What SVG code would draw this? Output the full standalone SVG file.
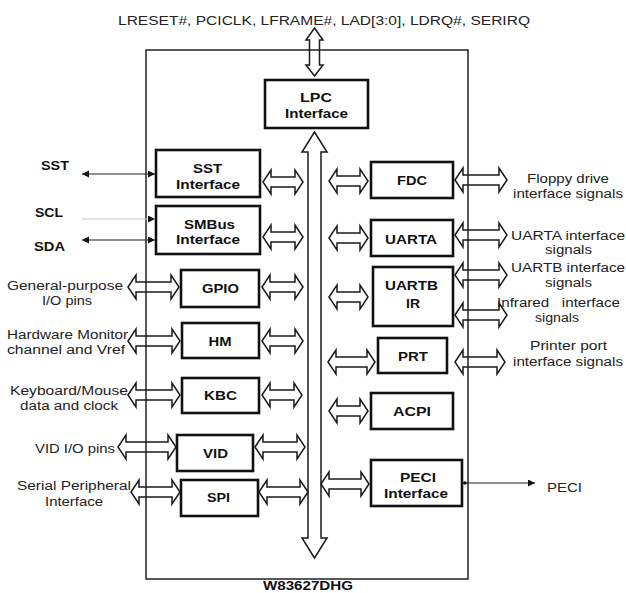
<svg xmlns="http://www.w3.org/2000/svg" width="626" height="593" viewBox="0 0 626 593">
<style>
  .bg{fill:#fff}
  .box{fill:none;stroke:#111;stroke-width:2.6}
  .outer{fill:none;stroke:#222;stroke-width:1.5}
  .dbl{fill:none;stroke:#1a1a1a;stroke-width:1.5;stroke-linejoin:miter}
  .sig{stroke:#222;stroke-width:1.2;fill:none}
  .sigl{stroke:#c8c8c8;stroke-width:1.2;fill:none}
  .lb{font-family:"Liberation Sans",Arial,sans-serif;font-weight:bold;font-size:12.5px;fill:#111}
  .lr{font-family:"Liberation Sans",Arial,sans-serif;font-size:12.5px;fill:#222}
</style>
<defs>
  <marker id="ah" markerUnits="userSpaceOnUse" markerWidth="8" markerHeight="8" refX="7" refY="3.5" orient="auto-start-reverse">
    <path d="M0,0 L7,3.5 L0,7 Z" fill="#111"/>
  </marker>
</defs>
<rect class="bg" x="0" y="0" width="626" height="593"/>

<g id="chip">
  <rect class="outer" x="146" y="50" width="322" height="529"/>
  <text class="lb" x="263" y="590" font-size="12px" textLength="90" lengthAdjust="spacingAndGlyphs">W83627DHG</text>
</g>

<text class="lr" x="118" y="25" textLength="412" lengthAdjust="spacingAndGlyphs">LRESET#, PCICLK, LFRAME#, LAD[3:0], LDRQ#, SERIRQ</text>

<g id="lpc">
  <rect class="box" x="265" y="80" width="103" height="48"/>
  <text class="lb" x="300" y="101.5" textLength="32" lengthAdjust="spacingAndGlyphs">LPC</text>
  <text class="lb" x="285" y="117.5" textLength="63" lengthAdjust="spacingAndGlyphs">Interface</text>
</g>
<g id="sst">
  <rect class="box" x="156" y="150" width="104" height="47"/>
  <text class="lb" x="193" y="173" textLength="29" lengthAdjust="spacingAndGlyphs">SST</text>
  <text class="lb" x="176" y="189" textLength="64" lengthAdjust="spacingAndGlyphs">Interface</text>
</g>
<g id="smbus">
  <rect class="box" x="156" y="206" width="104" height="48"/>
  <text class="lb" x="184" y="229" textLength="51" lengthAdjust="spacingAndGlyphs">SMBus</text>
  <text class="lb" x="176" y="244" textLength="64" lengthAdjust="spacingAndGlyphs">Interface</text>
</g>
<g id="gpio">
  <rect class="box" x="181" y="270" width="78" height="37"/>
  <text class="lb" x="202" y="292.5" textLength="37" lengthAdjust="spacingAndGlyphs">GPIO</text>
</g>
<g id="hm">
  <rect class="box" x="182" y="323" width="77" height="35"/>
  <text class="lb" x="208.5" y="345.5" textLength="23" lengthAdjust="spacingAndGlyphs">HM</text>
</g>
<g id="kbc">
  <rect class="box" x="182" y="378" width="77" height="35"/>
  <text class="lb" x="204" y="399.5" textLength="33" lengthAdjust="spacingAndGlyphs">KBC</text>
</g>
<g id="vid">
  <rect class="box" x="177" y="435" width="76" height="36"/>
  <text class="lb" x="203" y="457.5" textLength="25" lengthAdjust="spacingAndGlyphs">VID</text>
</g>
<g id="spi">
  <rect class="box" x="181" y="480" width="77" height="36"/>
  <text class="lb" x="207" y="502" textLength="23" lengthAdjust="spacingAndGlyphs">SPI</text>
</g>
<g id="fdc">
  <rect class="box" x="371" y="162" width="82" height="36"/>
  <text class="lb" x="397" y="184.5" textLength="30" lengthAdjust="spacingAndGlyphs">FDC</text>
</g>
<g id="uarta">
  <rect class="box" x="371" y="220" width="82" height="36"/>
  <text class="lb" x="385" y="243.5" textLength="52" lengthAdjust="spacingAndGlyphs">UARTA</text>
</g>
<g id="uartb">
  <rect class="box" x="373" y="267" width="80" height="59"/>
  <text class="lb" x="385" y="289.5" textLength="53" lengthAdjust="spacingAndGlyphs">UARTB</text>
  <text class="lb" x="406" y="307.5" textLength="14" lengthAdjust="spacingAndGlyphs">IR</text>
</g>
<g id="prt">
  <rect class="box" x="378" y="338" width="69" height="35"/>
  <text class="lb" x="398" y="360.5" textLength="30" lengthAdjust="spacingAndGlyphs">PRT</text>
</g>
<g id="acpi">
  <rect class="box" x="371" y="393" width="82" height="36"/>
  <text class="lb" x="393" y="416" textLength="38" lengthAdjust="spacingAndGlyphs">ACPI</text>
</g>
<g id="peci">
  <rect class="box" x="371" y="460" width="91" height="46"/>
  <text class="lb" x="400" y="481.5" textLength="36" lengthAdjust="spacingAndGlyphs">PECI</text>
  <text class="lb" x="384" y="498" textLength="64" lengthAdjust="spacingAndGlyphs">Interface</text>
</g>

<g id="labels">
  <text class="lb" x="41" y="170" textLength="28" lengthAdjust="spacingAndGlyphs">SST</text>
  <text class="lb" x="35" y="217" textLength="28" lengthAdjust="spacingAndGlyphs">SCL</text>
  <text class="lb" x="34" y="251" textLength="31" lengthAdjust="spacingAndGlyphs">SDA</text>
  <text class="lr" x="7" y="289.5" textLength="116" lengthAdjust="spacingAndGlyphs">General-purpose</text>
  <text class="lr" x="42" y="304.5" textLength="50" lengthAdjust="spacingAndGlyphs">I/O pins</text>
  <text class="lr" x="7" y="338.5" textLength="121" lengthAdjust="spacingAndGlyphs">Hardware Monitor</text>
  <text class="lr" x="7" y="353.5" textLength="118" lengthAdjust="spacingAndGlyphs">channel and Vref</text>
  <text class="lr" x="10" y="394.5" textLength="118" lengthAdjust="spacingAndGlyphs">Keyboard/Mouse</text>
  <text class="lr" x="20" y="409.5" textLength="98" lengthAdjust="spacingAndGlyphs">data and clock</text>
  <text class="lr" x="35" y="453" textLength="80" lengthAdjust="spacingAndGlyphs">VID I/O pins</text>
  <text class="lr" x="17" y="489.5" textLength="114" lengthAdjust="spacingAndGlyphs">Serial Peripheral</text>
  <text class="lr" x="45" y="506" textLength="58" lengthAdjust="spacingAndGlyphs">Interface</text>
  <text class="lr" x="527" y="182.5" textLength="82" lengthAdjust="spacingAndGlyphs">Floppy drive</text>
  <text class="lr" x="513" y="197.5" textLength="110" lengthAdjust="spacingAndGlyphs">interface signals</text>
  <text class="lr" x="511" y="239.5" textLength="114" lengthAdjust="spacingAndGlyphs">UARTA interface</text>
  <text class="lr" x="545" y="253.5" textLength="47" lengthAdjust="spacingAndGlyphs">signals</text>
  <text class="lr" x="511" y="271.5" textLength="114" lengthAdjust="spacingAndGlyphs">UARTB interface</text>
  <text class="lr" x="545" y="287" textLength="47" lengthAdjust="spacingAndGlyphs">signals</text>
  <text class="lr" x="497" y="306.5" xml:space="preserve" textLength="123" lengthAdjust="spacingAndGlyphs">Infrared   interface</text>
  <text class="lr" x="535" y="321.5" textLength="44" lengthAdjust="spacingAndGlyphs">signals</text>
  <text class="lr" x="530" y="349.5" textLength="77" lengthAdjust="spacingAndGlyphs">Printer port</text>
  <text class="lr" x="513" y="366" textLength="110" lengthAdjust="spacingAndGlyphs">interface signals</text>
  <text class="lr" x="547" y="491.5" textLength="35" lengthAdjust="spacingAndGlyphs">PECI</text>
</g>

<g id="connectors">
  <!-- LPC external and internal bus -->
  <path class="dbl" d="M314.5 28 L323 40 L319.5 40 L319.5 65 L323 65 L314.5 76 L306 65 L309.5 65 L309.5 40 L306 40 Z"/>
  <path class="dbl" d="M314.5 132 L327 152 L321 152 L321 538 L327 538 L314.5 558 L302 538 L308 538 L308 152 L302 152 Z"/>
  <!-- left inner -->
  <path class="dbl" d="M263 182 L271 170 L271 177 L295 177 L295 170 L303 182 L295 194 L295 187 L271 187 L271 194 Z"/>
  <path class="dbl" d="M263 237 L271 225 L271 232 L295 232 L295 225 L303 237 L295 249 L295 242 L271 242 L271 249 Z"/>
  <path class="dbl" d="M262 287 L270 275 L270 282 L295 282 L295 275 L303 287 L295 299 L295 292 L270 292 L270 299 Z"/>
  <path class="dbl" d="M262 341 L270 329 L270 336 L295 336 L295 329 L303 341 L295 353 L295 346 L270 346 L270 353 Z"/>
  <path class="dbl" d="M262 395 L270 383 L270 390 L294 390 L294 383 L302 395 L294 407 L294 400 L270 400 L270 407 Z"/>
  <path class="dbl" d="M255 447 L263 435 L263 442 L297 442 L297 435 L305 447 L297 459 L297 452 L263 452 L263 459 Z"/>
  <path class="dbl" d="M259 492 L267 480 L267 487 L300 487 L300 480 L308 492 L300 504 L300 497 L267 497 L267 504 Z"/>
  <!-- right inner -->
  <path class="dbl" d="M329 181 L337 169 L337 176 L360 176 L360 169 L368 181 L360 193 L360 186 L337 186 L337 193 Z"/>
  <path class="dbl" d="M329 238 L337 226 L337 233 L360 233 L360 226 L368 238 L360 250 L360 243 L337 243 L337 250 Z"/>
  <path class="dbl" d="M329 297 L337 285 L337 292 L360 292 L360 285 L368 297 L360 309 L360 302 L337 302 L337 309 Z"/>
  <path class="dbl" d="M328 362 L336 350 L336 357 L367 357 L367 350 L375 362 L367 374 L367 367 L336 367 L336 374 Z"/>
  <path class="dbl" d="M329 411 L337 399 L337 406 L360 406 L360 399 L368 411 L360 423 L360 416 L337 416 L337 423 Z"/>
  <path class="dbl" d="M321 484 L329 472 L329 479 L361 479 L361 472 L369 484 L361 496 L361 489 L329 489 L329 496 Z"/>
  <!-- left external -->
  <path class="dbl" d="M128 287 L136 275 L136 282 L171 282 L171 275 L179 287 L171 299 L171 292 L136 292 L136 299 Z"/>
  <path class="dbl" d="M128 341 L136 329 L136 336 L172 336 L172 329 L180 341 L172 353 L172 346 L136 346 L136 353 Z"/>
  <path class="dbl" d="M128 395 L136 383 L136 390 L172 390 L172 383 L180 395 L172 407 L172 400 L136 400 L136 407 Z"/>
  <path class="dbl" d="M118 447 L126 435 L126 442 L168 442 L168 435 L176 447 L168 459 L168 452 L126 452 L126 459 Z"/>
  <path class="dbl" d="M131 492 L139 480 L139 487 L172 487 L172 480 L180 492 L172 504 L172 497 L139 497 L139 504 Z"/>
  <!-- right external -->
  <path class="dbl" d="M455 180 L463 168 L463 175 L499 175 L499 168 L507 180 L499 192 L499 185 L463 185 L463 192 Z"/>
  <path class="dbl" d="M455 235 L463 223 L463 230 L499 230 L499 223 L507 235 L499 247 L499 240 L463 240 L463 247 Z"/>
  <path class="dbl" d="M455 275 L463 263 L463 270 L499 270 L499 263 L507 275 L499 287 L499 280 L463 280 L463 287 Z"/>
  <path class="dbl" d="M455 315 L463 303 L463 310 L499 310 L499 303 L507 315 L499 327 L499 320 L463 320 L463 327 Z"/>
  <path class="dbl" d="M455 362 L463 350 L463 357 L497 357 L497 350 L505 362 L497 374 L497 367 L463 367 L463 374 Z"/>
  <!-- single signals -->
  <line class="sig" x1="82" y1="174" x2="155" y2="174" marker-start="url(#ah)" marker-end="url(#ah)"/>
  <line class="sigl" x1="82" y1="219" x2="155" y2="219" marker-end="url(#ah)"/>
  <line class="sig" x1="82" y1="240" x2="155" y2="240" marker-start="url(#ah)" marker-end="url(#ah)"/>
  <line class="sig" x1="463" y1="483" x2="535" y2="483" marker-end="url(#ah)"/>
  <circle cx="465" cy="483" r="1.8" fill="#111"/>
</g>
</svg>
